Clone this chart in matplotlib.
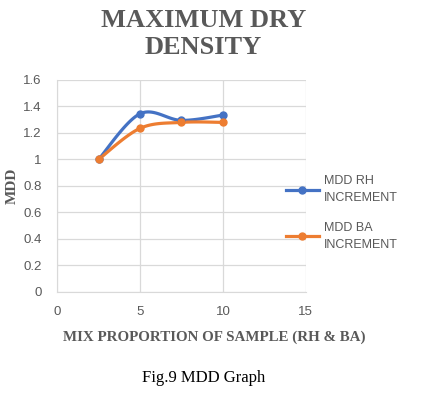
import numpy as np
import matplotlib
matplotlib.use("Agg")
import matplotlib.pyplot as plt

# data
mix = [2.5, 5, 7.5, 10]
mdd_rh = [1.00, 1.345, 1.295, 1.335]
mdd_ba = [1.00, 1.235, 1.28, 1.28]
xticks = [0, 5, 10, 15]
yticks = [0, 0.2, 0.4, 0.6, 0.8, 1, 1.2, 1.4, 1.6]
ytick_labels = ["0", "0.2", "0.4", "0.6", "0.8", "1", "1.2", "1.4", "1.6"]


def smooth(x, y, n=30):
    """Excel-style smoothed line (cubic bezier through points)."""
    p = np.column_stack([x, y]).astype(float)
    pts = np.vstack([p[0], p, p[-1]])
    out = []
    for i in range(1, len(pts) - 2):
        p0, p1, p2, p3 = pts[i - 1], pts[i], pts[i + 1], pts[i + 2]
        c1 = p1 + (p2 - p0) / 6
        c2 = p2 - (p3 - p1) / 6
        t = np.linspace(0, 1, n)[:, None]
        seg = ((1 - t) ** 3 * p1 + 3 * (1 - t) ** 2 * t * c1
               + 3 * (1 - t) * t ** 2 * c2 + t ** 3 * p2)
        out.append(seg)
    s = np.vstack(out)
    return s[:, 0], s[:, 1]


fig = plt.figure(figsize=(4.26, 3.94), dpi=100)
ax = fig.add_axes([0.134, 0.259, 0.584, 0.538])

grey = "#595959"
series = [(mdd_rh, "#4472C4", "MDD RH\nINCREMENT"),
          (mdd_ba, "#ED7D31", "MDD BA\nINCREMENT")]
for vals, col, lab in series:
    sx, sy = smooth(mix, vals)
    ax.plot(sx, sy, color=col, lw=2.3, solid_capstyle="round", zorder=3)
    ax.plot(mix, vals, "o", color=col, ms=5, zorder=4)
    ax.plot([], [], "-o", color=col, lw=2.3, ms=5, label=lab)

ax.set_xlim(0, 15)
ax.set_ylim(0, 1.6)
ax.set_xticks(xticks)
ax.set_yticks(yticks)
ax.set_yticklabels(ytick_labels)
ax.grid(True, color="#d9d9d9", lw=0.9)
ax.set_axisbelow(True)
for s in ["top", "right"]:
    ax.spines[s].set_visible(False)
for s in ["left", "bottom"]:
    ax.spines[s].set_color("#d9d9d9")
ax.tick_params(length=0, colors=grey, labelsize=9.5)
ax.tick_params(axis="y", pad=11)
ax.tick_params(axis="x", pad=10)
for t in ax.get_xticklabels() + ax.get_yticklabels():
    t.set_family("Liberation Sans")

fig.text(12 / 426, 1 - 186 / 394, "MDD", rotation=90, ha="center", va="center",
         family="Liberation Serif", weight="bold", color=grey, fontsize=11)
fig.text(214 / 426, 1 - 337 / 394, "MIX PROPORTION OF SAMPLE (RH & BA)",
         ha="center", va="center", family="Liberation Serif",
         weight="bold", color=grey, fontsize=10.8)

fig.text(0.477, 0.978, "MAXIMUM DRY\nDENSITY", ha="center", va="top",
         family="Liberation Serif", weight="bold", color=grey,
         fontsize=19, linespacing=1.25)

leg = fig.legend(loc="upper left", bbox_to_anchor=(0.645, 0.585),
                 frameon=False, handlelength=2.6, handletextpad=0.4,
                 labelspacing=1.4, prop={"family": "Liberation Sans", "size": 9})
for t in leg.get_texts():
    t.set_color(grey)
    t.set_linespacing(1.6)

fig.text(0.477, 0.04, "Fig.9 MDD Graph", ha="center", va="center",
         family="Liberation Serif", fontsize=12, color="black")

fig.savefig("out.png", dpi=100)
